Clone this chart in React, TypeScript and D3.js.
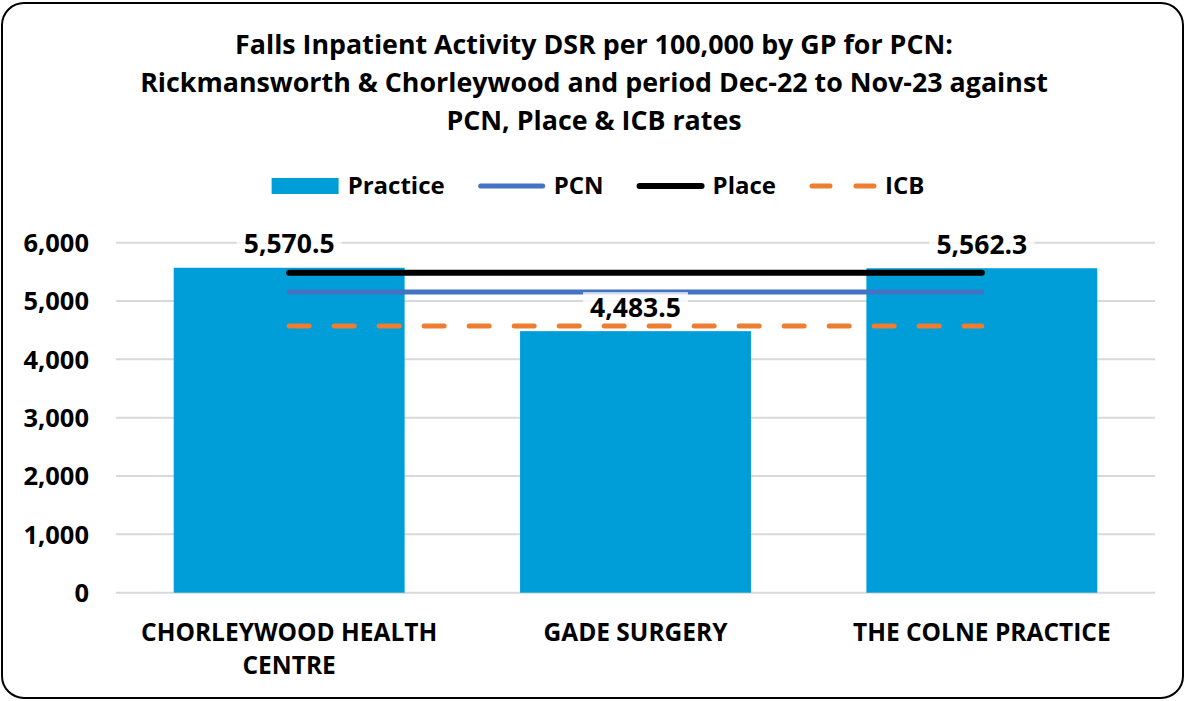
import React, { useEffect, useRef } from "react";
import * as d3 from "d3";

const titleLines = [
  "Falls Inpatient Activity DSR per 100,000 by GP for PCN:",
  "Rickmansworth & Chorleywood and period Dec-22 to Nov-23 against",
  "PCN, Place & ICB rates",
];
const categories = ["CHORLEYWOOD HEALTH CENTRE", "GADE SURGERY", "THE COLNE PRACTICE"];
const practiceValues = [5570.5, 4483.5, 5562.3];
const pcnValues = [5155, 5155, 5155];
const placeValues = [5486, 5486, 5486];
const icbValues = [4572, 4572, 4572];
const yTicks = [0, 1000, 2000, 3000, 4000, 5000, 6000];
const legendNames = ["Practice", "PCN", "Place", "ICB"];

const FONT = "'Open Sans', 'Liberation Sans', sans-serif";

const App = () => {
  const ref = useRef<SVGSVGElement>(null);

  useEffect(() => {
    const width = 1186, height = 701;
    const svg = d3.select(ref.current);
    svg.selectAll("*").remove();

    const colors = { practice: "#009ED8", pcn: "#4472C4", place: "#000000", icb: "#ED7D31" };

    // outer frame
    svg.append("rect")
      .attr("x", 2).attr("y", 3)
      .attr("width", width - 5).attr("height", height - 6)
      .attr("rx", 22)
      .attr("fill", "#fff").attr("stroke", "#000").attr("stroke-width", 2);

    // title
    svg.append("g")
      .selectAll("text")
      .data(titleLines)
      .enter()
      .append("text")
      .attr("x", 594)
      .attr("y", (d, i) => 54 + i * 38)
      .attr("text-anchor", "middle")
      .style("font-family", FONT)
      .style("font-weight", "bold")
      .style("font-size", "26.8px")
      .text(d => d);

    const x = d3.scaleBand().domain(categories).range([116, 1155]).paddingInner(1 / 3).paddingOuter(1 / 6);
    const y = d3.scaleLinear().domain([0, 6000]).range([592.7, 242.7]);
    const cx = (c: string) => (x(c) as number) + x.bandwidth() / 2;

    // gridlines
    svg.append("g")
      .selectAll("line")
      .data(yTicks)
      .enter()
      .append("line")
      .attr("x1", 116).attr("x2", 1155)
      .attr("y1", d => y(d)).attr("y2", d => y(d))
      .attr("stroke", "#D9D9D9").attr("stroke-width", 2);

    // y tick labels
    svg.append("g")
      .selectAll("text")
      .data(yTicks)
      .enter()
      .append("text")
      .attr("x", 89)
      .attr("y", d => y(d))
      .attr("dy", "0.36em")
      .attr("text-anchor", "end")
      .style("font-family", FONT)
      .style("font-weight", "bold")
      .style("font-size", "25.5px")
      .text(d => d3.format(",")(d));

    // bars
    svg.append("g")
      .selectAll("rect")
      .data(categories)
      .enter()
      .append("rect")
      .attr("x", d => x(d) as number)
      .attr("width", x.bandwidth())
      .attr("y", (d, i) => y(practiceValues[i]))
      .attr("height", (d, i) => y(0) - y(practiceValues[i]))
      .attr("fill", colors.practice);

    const line = d3.line<number>().x((d, i) => cx(categories[i])).y(d => y(d));

    svg.append("path").attr("d", line(pcnValues))
      .attr("fill", "none").attr("stroke", colors.pcn).attr("stroke-width", 5).attr("stroke-linecap", "round");
    svg.append("path").attr("d", line(placeValues))
      .attr("fill", "none").attr("stroke", colors.place).attr("stroke-width", 6).attr("stroke-linecap", "round");
    svg.append("path").attr("d", line(icbValues))
      .attr("fill", "none").attr("stroke", colors.icb).attr("stroke-width", 5)
      .attr("stroke-linecap", "round").attr("stroke-dasharray", "20,25");

    // data labels
    const labels = svg.append("g")
      .selectAll("g")
      .data(categories)
      .enter()
      .append("g")
      .attr("transform", (d, i) => `translate(${cx(d)},${y(practiceValues[i]) - 24})`);
    const bg = labels.append("rect").attr("fill", "#fff").attr("fill-opacity", 0.78);
    const lt = labels.append("text")
      .attr("text-anchor", "middle")
      .attr("dy", "0.36em")
      .style("font-family", FONT)
      .style("font-weight", "bold")
      .style("font-size", "26.5px")
      .text((d, i) => d3.format(",.1f")(practiceValues[i]));
    lt.each(function (d, i) {
      const w = (this as SVGTextElement).getComputedTextLength();
      d3.select(bg.nodes()[i])
        .attr("x", -w / 2 - 7).attr("width", w + 14)
        .attr("y", -15).attr("height", 30);
    });

    // x labels with wrapping
    const xl = svg.append("g")
      .selectAll("text")
      .data(categories)
      .enter()
      .append("text")
      .attr("x", d => cx(d))
      .attr("y", 641)
      .attr("text-anchor", "middle")
      .style("font-family", FONT)
      .style("font-weight", "bold")
      .style("font-size", "24.5px");
    xl.each(function (d) {
      const t = d3.select(this);
      const words = d.split(" ");
      let lineWords: string[] = [];
      let ts = t.append("tspan").attr("x", cx(d)).attr("dy", 0);
      words.forEach(w => {
        lineWords.push(w);
        ts.text(lineWords.join(" "));
        if ((ts.node() as SVGTextContentElement).getComputedTextLength() > x.step() - 30 && lineWords.length > 1) {
          lineWords.pop();
          ts.text(lineWords.join(" "));
          lineWords = [w];
          ts = t.append("tspan").attr("x", cx(d)).attr("dy", 33).text(w);
        }
      });
    });

    // legend
    const legend = svg.append("g");
    const items = legend.selectAll("g").data(legendNames).enter().append("g");
    const texts = items.append("text")
      .attr("x", 76)
      .attr("y", 186)
      .attr("dy", "0.35em")
      .style("font-family", FONT)
      .style("font-weight", "bold")
      .style("font-size", "24px")
      .text(d => d);
    const widths = texts.nodes().map(n => (n as SVGTextElement).getComputedTextLength());
    const itemW = widths.map(w => 76 + w);
    const gap = 33;
    const total = d3.sum(itemW) + gap * (itemW.length - 1);
    let start = 598 - total / 2;
    items.attr("transform", (d, i) => {
      const tx = start;
      start += itemW[i] + gap;
      return `translate(${tx},0)`;
    });
    items.each(function (d) {
      const g = d3.select(this);
      if (d === "Practice") {
        g.append("rect").attr("x", 0).attr("y", 178).attr("width", 67).attr("height", 16).attr("fill", colors.practice);
      } else {
        const c = d === "PCN" ? colors.pcn : d === "Place" ? colors.place : colors.icb;
        const l = g.append("line").attr("x1", 3).attr("x2", 65).attr("y1", 186).attr("y2", 186)
          .attr("stroke", c).attr("stroke-width", d === "Place" ? 6 : 5).attr("stroke-linecap", "round");
        if (d === "ICB") l.attr("stroke-dasharray", "18,26");
      }
    });
  }, []);

  return (
    <svg
      ref={ref}
      width={1186}
      height={701}
      style={{ position: "absolute", left: 0, top: 0, background: "#fff" }}
    />
  );
};

export default App;
